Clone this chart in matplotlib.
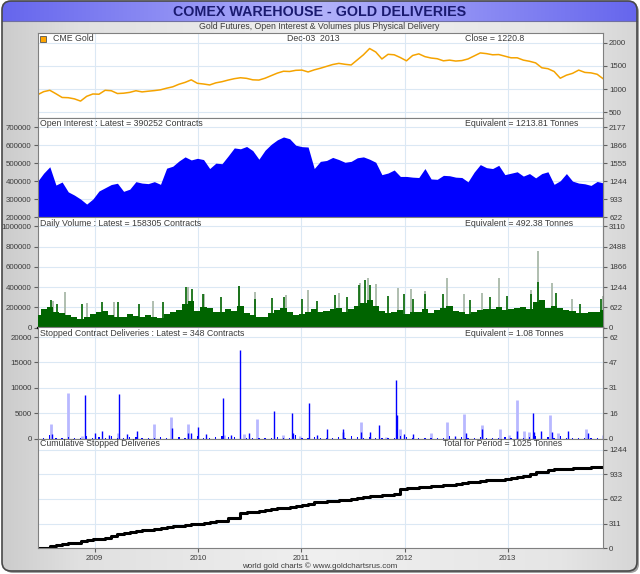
import numpy as np
import matplotlib
matplotlib.use('Agg')
import matplotlib.pyplot as plt
from matplotlib.patches import FancyBboxPatch, Rectangle

plt.rcParams['font.family'] = ['Liberation Sans', 'DejaVu Sans']
plt.rcParams['font.size'] = 6

# time axis in decimal years, sampled roughly every 3 weeks
t_start, t_end = 2008.446, 2013.925
t = np.linspace(t_start, t_end, 93)
years = [2009, 2010, 2011, 2012, 2013]

# CME gold price (USD/oz)
gold = [878, 945, 975, 900, 820, 815, 790, 742, 845, 895,
        890, 975, 965, 905, 912, 930, 965, 940, 955, 968,
        985, 1020, 1050, 1105, 1145, 1200, 1125, 1110, 1090, 1135,
        1160, 1195, 1225, 1245, 1232, 1200, 1195, 1235, 1290, 1345,
        1385, 1380, 1405, 1410, 1370, 1415, 1450, 1490, 1530, 1555,
        1535, 1520, 1630, 1740, 1875, 1800, 1650, 1750, 1740, 1680,
        1610, 1725, 1760, 1700, 1670, 1655, 1610, 1625, 1605, 1615,
        1650, 1715, 1780, 1765, 1740, 1745, 1710, 1675, 1675, 1625,
        1600, 1565, 1460, 1440, 1380, 1235, 1300, 1340, 1410, 1360,
        1350, 1320, 1221]

# open interest (thousand contracts)
oi_k = [398, 444, 480, 378, 395, 340, 322, 300, 272, 300,
        345, 363, 381, 388, 343, 355, 397, 389, 386, 397,
        382, 472, 483, 512, 535, 518, 527, 520, 470, 500,
        497, 540, 585, 580, 593, 570, 522, 572, 605, 630,
        646, 636, 600, 592, 590, 470, 510, 515, 532, 520,
        505, 510, 530, 535, 522, 505, 436, 445, 462, 426,
        426, 422, 420, 470, 412, 410, 432, 430, 422, 420,
        396, 450, 492, 475, 470, 488, 436, 444, 452, 428,
        442, 418, 442, 452, 382, 402, 442, 400, 389, 385,
        376, 398, 390]

# daily volume base level (thousand contracts)
vol_k = [120, 180, 200, 150, 140, 120, 105, 85, 100, 130,
         150, 165, 125, 105, 100, 130, 115, 100, 120, 105,
         95, 130, 155, 170, 230, 260, 165, 200, 190, 150,
         155, 185, 165, 215, 140, 120, 100, 105, 140, 170,
         190, 155, 125, 130, 155, 185, 150, 165, 180, 195,
         155, 185, 215, 245, 270, 210, 165, 140, 155, 170,
         130, 150, 155, 180, 140, 170, 195, 210, 165, 150,
         130, 155, 170, 185, 180, 200, 170, 180, 195, 205,
         185, 250, 270, 190, 215, 195, 170, 160, 145, 140,
         155, 150, 175]

# volume spikes
green_spike_t = [2008.577, 2008.636, 2008.873, 2009.071, 2009.230, 2009.427, 2009.665,
                 2009.883, 2009.942, 2010.049, 2010.219, 2010.397, 2010.555, 2010.713,
                 2010.832, 2011.010, 2011.149, 2011.327, 2011.446, 2011.564, 2011.616,
                 2011.663, 2011.841, 2011.999, 2012.079, 2012.198, 2012.376, 2012.633,
                 2012.831, 2012.989, 2013.227, 2013.294, 2013.464, 2013.701, 2013.899]
green_spike_k = [270, 230, 230, 250, 250, 230, 250, 400, 380, 330, 300, 415, 280, 290,
                 300, 280, 260, 320, 300, 420, 470, 420, 310, 330, 280, 330, 330, 270,
                 300, 310, 330, 450, 340, 230, 280]
gray_spike_t = [2008.596, 2008.715, 2008.930, 2009.190, 2009.566, 2009.902, 2010.060,
                2010.397, 2010.555, 2010.852, 2011.070, 2011.367, 2011.565, 2011.644,
                2011.723, 2011.940, 2012.060, 2012.197, 2012.415, 2012.573, 2012.751,
                2012.918, 2013.227, 2013.294, 2013.424, 2013.622, 2013.919]
gray_spike_k = [260, 350, 240, 250, 265, 400, 330, 415, 355, 320, 370, 340, 440, 485,
                430, 390, 380, 360, 490, 330, 340, 490, 370, 755, 440, 280, 310]

# stopped contract deliveries
deliv_base = [300, 150, 800, 200, 100, 400, 150, 100, 500, 200,
              300, 200, 600, 250, 150, 400, 300, 200, 150, 100,
              300, 200, 1000, 300, 200, 400, 500, 200, 150, 300,
              500, 300, 400, 300, 200, 150, 100, 200, 150, 300,
              200, 100, 800, 200, 150, 300, 200, 100, 150, 300,
              200, 600, 300, 150, 400, 200, 100, 150, 200, 600,
              300, 150, 200, 100, 150, 100, 200, 500, 150, 300,
              200, 100, 300, 150, 100, 200, 300, 150, 400, 200,
              300, 500, 400, 300, 200, 600, 200, 150, 100, 200,
              150, 100, 300]
dark_t = [2008.585, 2008.909, 2009.000, 2009.071, 2009.143, 2009.237, 2009.317, 2009.408,
          2009.744, 2009.902, 2009.934, 2009.997, 2010.080, 2010.239, 2010.318, 2010.405,
          2010.496, 2010.741, 2010.907, 2010.923, 2011.074, 2011.149, 2011.248, 2011.406,
          2011.576, 2011.663, 2011.754, 2011.913, 2011.928, 2011.999, 2012.079, 2012.486,
          2012.593, 2012.751, 2013.088, 2013.246, 2013.258, 2013.325, 2013.424, 2013.583,
          2013.780, 2013.923]
dark_v = [900, 8600, 1200, 1600, 700, 8800, 900, 1500, 2100, 1200, 1100, 2400, 1000, 8000,
          800, 17500, 1100, 5400, 5100, 1200, 7000, 700, 2000, 1900, 1400, 1400, 2800, 11500,
          4700, 900, 1000, 500, 1200, 2000, 1600, 5100, 1400, 1500, 1400, 1500, 1100, 800]
light_t = [2008.577, 2008.743, 2008.873, 2009.230, 2009.578, 2009.736, 2009.902, 2010.250,
           2010.444, 2010.575, 2010.824, 2010.990, 2011.406, 2011.576, 2011.822, 2011.952,
           2012.257, 2012.415, 2012.573, 2012.751, 2012.929, 2013.009, 2013.088, 2013.155,
           2013.207, 2013.412, 2013.491, 2013.753]
light_v = [2900, 9100, 600, 1200, 2900, 4300, 2900, 700, 900, 3800, 700, 600, 1300, 3300,
           400, 2000, 1100, 3300, 4900, 2800, 2000, 700, 7600, 1500, 1300, 4700, 1100, 2000]

# cumulative stopped deliveries (tonnes)
cum_t = [0, 6, 25, 40, 58, 66, 70, 90, 108, 114,
         118, 135, 150, 185, 198, 210, 218, 225, 232, 242,
         250, 262, 276, 282, 290, 303, 310, 318, 330, 340,
         345, 378, 385, 445, 455, 462, 475, 480, 490, 505,
         508, 518, 530, 545, 552, 580, 585, 590, 595, 605,
         612, 620, 630, 645, 655, 662, 668, 675, 680, 742,
         755, 762, 768, 775, 782, 790, 795, 800, 812, 825,
         835, 840, 848, 858, 862, 865, 870, 880, 892, 915,
         930, 955, 965, 990, 998, 1000, 1003, 1006, 1010, 1014,
         1020, 1023, 1025]

TONNE = 0.0031103  # tonnes per 100 oz contract
GRID = '#dbe8f4'
TXT = '#3c3c3c'
TICK = '#606060'
TICKSIZE = 5.7

fig = plt.figure(figsize=(6.4, 5.74), dpi=100)

# ---- background frame ----
bg = fig.add_axes([0, 0, 1, 1], zorder=-10)
shadow = FancyBboxPatch((4, 3), 635, 570, boxstyle='round,pad=0,rounding_size=9',
                        fc='#a0a0a0', ec='none', zorder=0)
bg.add_patch(shadow)
frame = FancyBboxPatch((2, 1), 635, 570, boxstyle='round,pad=0,rounding_size=9',
                       fc='none', ec='#484848', lw=1.2, zorder=5)
bg.add_patch(frame)
g = np.interp(np.linspace(0, 1, 256), [0, 0.12, 0.5, 0.88, 1], [0.80, 0.88, 0.94, 0.90, 0.84])
im = bg.imshow(np.dstack([g, g, g]).reshape(1, 256, 3), extent=(2, 637, 571, 1),
               aspect='auto', zorder=1)
im.set_clip_path(frame)
xb = np.linspace(0, 1, 256)
mid = np.interp(xb, [0, 0.5, 1], [0, 1, 0])
tb_rgb = np.zeros((1, 256, 3))
tb_rgb[0, :, 0] = 0.40 + 0.30 * mid
tb_rgb[0, :, 1] = 0.40 + 0.30 * mid
tb_rgb[0, :, 2] = 0.93 + 0.05 * mid
tb = bg.imshow(tb_rgb, extent=(2, 637, 21, 1), aspect='auto', zorder=2)
tb.set_clip_path(frame)
bg.plot([2, 637], [21, 21], color='#7070a0', lw=0.8, zorder=3)
bg.set_xlim(0, 640)
bg.set_ylim(574, 0)
bg.axis('off')

# ---- panels ----
LEFT, RIGHT = 37.5, 603.3
edges = [33.3, 118.3, 217.0, 327.5, 438.8, 548.3]


def panel(i, ylim):
    top, bot = edges[i], edges[i + 1]
    ax = fig.add_axes([LEFT / 640, 1 - bot / 574, (RIGHT - LEFT) / 640, (bot - top) / 574])
    ax.set_facecolor('white')
    ax.set_xlim(t_start, t_end)
    ax.set_ylim(*ylim)
    ax.set_xticks(years)
    ax.grid(True, color=GRID, lw=0.8)
    ax.set_axisbelow(True)
    ax.tick_params(axis='x', length=0, labelbottom=False)
    ax.tick_params(axis='y', length=3, color=TICK, labelcolor=TXT, labelsize=TICKSIZE, pad=1.2)
    for s in ax.spines.values():
        s.set_color('#808080')
        s.set_linewidth(0.8)
    return ax


def right_tonnes(ax, ticks):
    sec = ax.secondary_yaxis('right', functions=(lambda v: v * TONNE, lambda v: v / TONNE))
    sec.set_yticks([v * TONNE for v in ticks])
    sec.set_yticklabels([str(round(v * TONNE)) for v in ticks])
    sec.tick_params(length=3, color=TICK, labelcolor=TXT, labelsize=TICKSIZE, pad=1.2)
    sec.spines['right'].set_color('#808080')
    sec.spines['right'].set_linewidth(0.8)


# gold price
ax1 = panel(0, (371, 2203))
ax1.plot(t, gold, color='#f5a300', lw=1.1)
ax1.yaxis.tick_right()
ax1.set_yticks([500, 1000, 1500, 2000])
ax1.set_yticklabels(['500', '1000', '1500', '2000'])

# open interest
ax2 = panel(1, (200000, 750000))
ax2.fill_between(t, np.array(oi_k) * 1000, 200000, color='#0000ff', lw=0)
oi_ticks = [200000, 300000, 400000, 500000, 600000, 700000]
ax2.set_yticks(oi_ticks)
ax2.set_yticklabels([str(v) for v in oi_ticks])
right_tonnes(ax2, oi_ticks)

# daily volume
ax3 = panel(2, (0, 1092000))
ax3.vlines(gray_spike_t, 0, np.array(gray_spike_k) * 1000, color='#a9b9a9', lw=1.3, zorder=2)
ax3.fill_between(t, np.array(vol_k) * 1000, 0, step='mid', color='#006400', lw=0, zorder=3)
ax3.vlines(green_spike_t, 0, np.array(green_spike_k) * 1000, color='#006400', lw=1.2, zorder=3)
vol_ticks = [0, 200000, 400000, 600000, 800000, 1000000]
ax3.set_yticks(vol_ticks)
ax3.set_yticklabels([str(v) for v in vol_ticks])
ax3.spines['bottom'].set_color('black')
ax3.spines['bottom'].set_linewidth(1.6)
right_tonnes(ax3, vol_ticks)

# stopped deliveries
ax4 = panel(3, (0, 21876))
ax4.vlines(light_t, 0, light_v, color='#b8b8ff', lw=2.0, zorder=2)
ax4.bar(t, deliv_base, width=0.012, color='#0000ff', lw=0, zorder=3)
ax4.vlines(dark_t, 0, dark_v, color='#0000ff', lw=1.0, zorder=3)
del_ticks = [0, 5000, 10000, 15000, 20000]
ax4.set_yticks(del_ticks)
ax4.set_yticklabels([str(v) for v in del_ticks])
right_tonnes(ax4, del_ticks)

# cumulative
ax5 = panel(4, (0, 1379))
ax5.step(t, cum_t, where='post', color='black', lw=2.2)
ax5.yaxis.tick_right()
cum_ticks = [0, 311, 622, 933, 1244]
ax5.set_yticks(cum_ticks)
ax5.set_yticklabels([str(v) for v in cum_ticks])
ax5.tick_params(axis='x', length=3, color=TICK, labelbottom=True, labelcolor=TXT,
                labelsize=TICKSIZE, pad=2)
ax5.set_xticklabels([str(y) for y in years])

# ---- texts ----
ov = fig.add_axes([0, 0, 1, 1], zorder=10)
ov.set_xlim(0, 640)
ov.set_ylim(574, 0)
ov.axis('off')

ov.text(320, 11.5, 'COMEX WAREHOUSE - GOLD DELIVERIES', ha='center', va='center',
        fontsize=10.3, fontweight='bold', color='#1a1a70')
ov.text(319, 26.5, 'Gold Futures, Open Interest & Volumes plus Physical Delivery',
        ha='center', va='center', fontsize=6.3, color=TXT)

ov.add_patch(Rectangle((39.5, 35.8), 6, 6, fc='#ffa500', ec='#555555', lw=0.6))
lab = dict(va='center', fontsize=6.3, color=TXT)
ov.text(53, 38.5, 'CME Gold', **lab)
ov.text(287, 38.5, 'Dec-03  2013', **lab)
ov.text(465, 38.5, 'Close = 1220.8', **lab)
ov.text(40, 123.7, 'Open Interest : Latest = 390252 Contracts', **lab)
ov.text(465, 123.7, 'Equivalent = 1213.81 Tonnes', **lab)
ov.text(40, 223.3, 'Daily Volume : Latest = 158305 Contracts', **lab)
ov.text(465, 223.3, 'Equivalent = 492.38 Tonnes', **lab)
ov.text(40, 333.3, 'Stopped Contract Deliveries : Latest = 348 Contracts', **lab)
ov.text(465, 333.3, 'Equivalent = 1.08 Tonnes', **lab)
ov.text(40, 443.5, 'Cumulative Stopped Deliveries', **lab)
ov.text(443, 443.5, 'Total for Period = 1025 Tonnes', **lab)
ov.text(320, 566, 'world gold charts \u00a9 www.goldchartsrus.com', ha='center', va='center',
        fontsize=5.8, color=TXT)

fig.savefig('out.png', dpi=100)
